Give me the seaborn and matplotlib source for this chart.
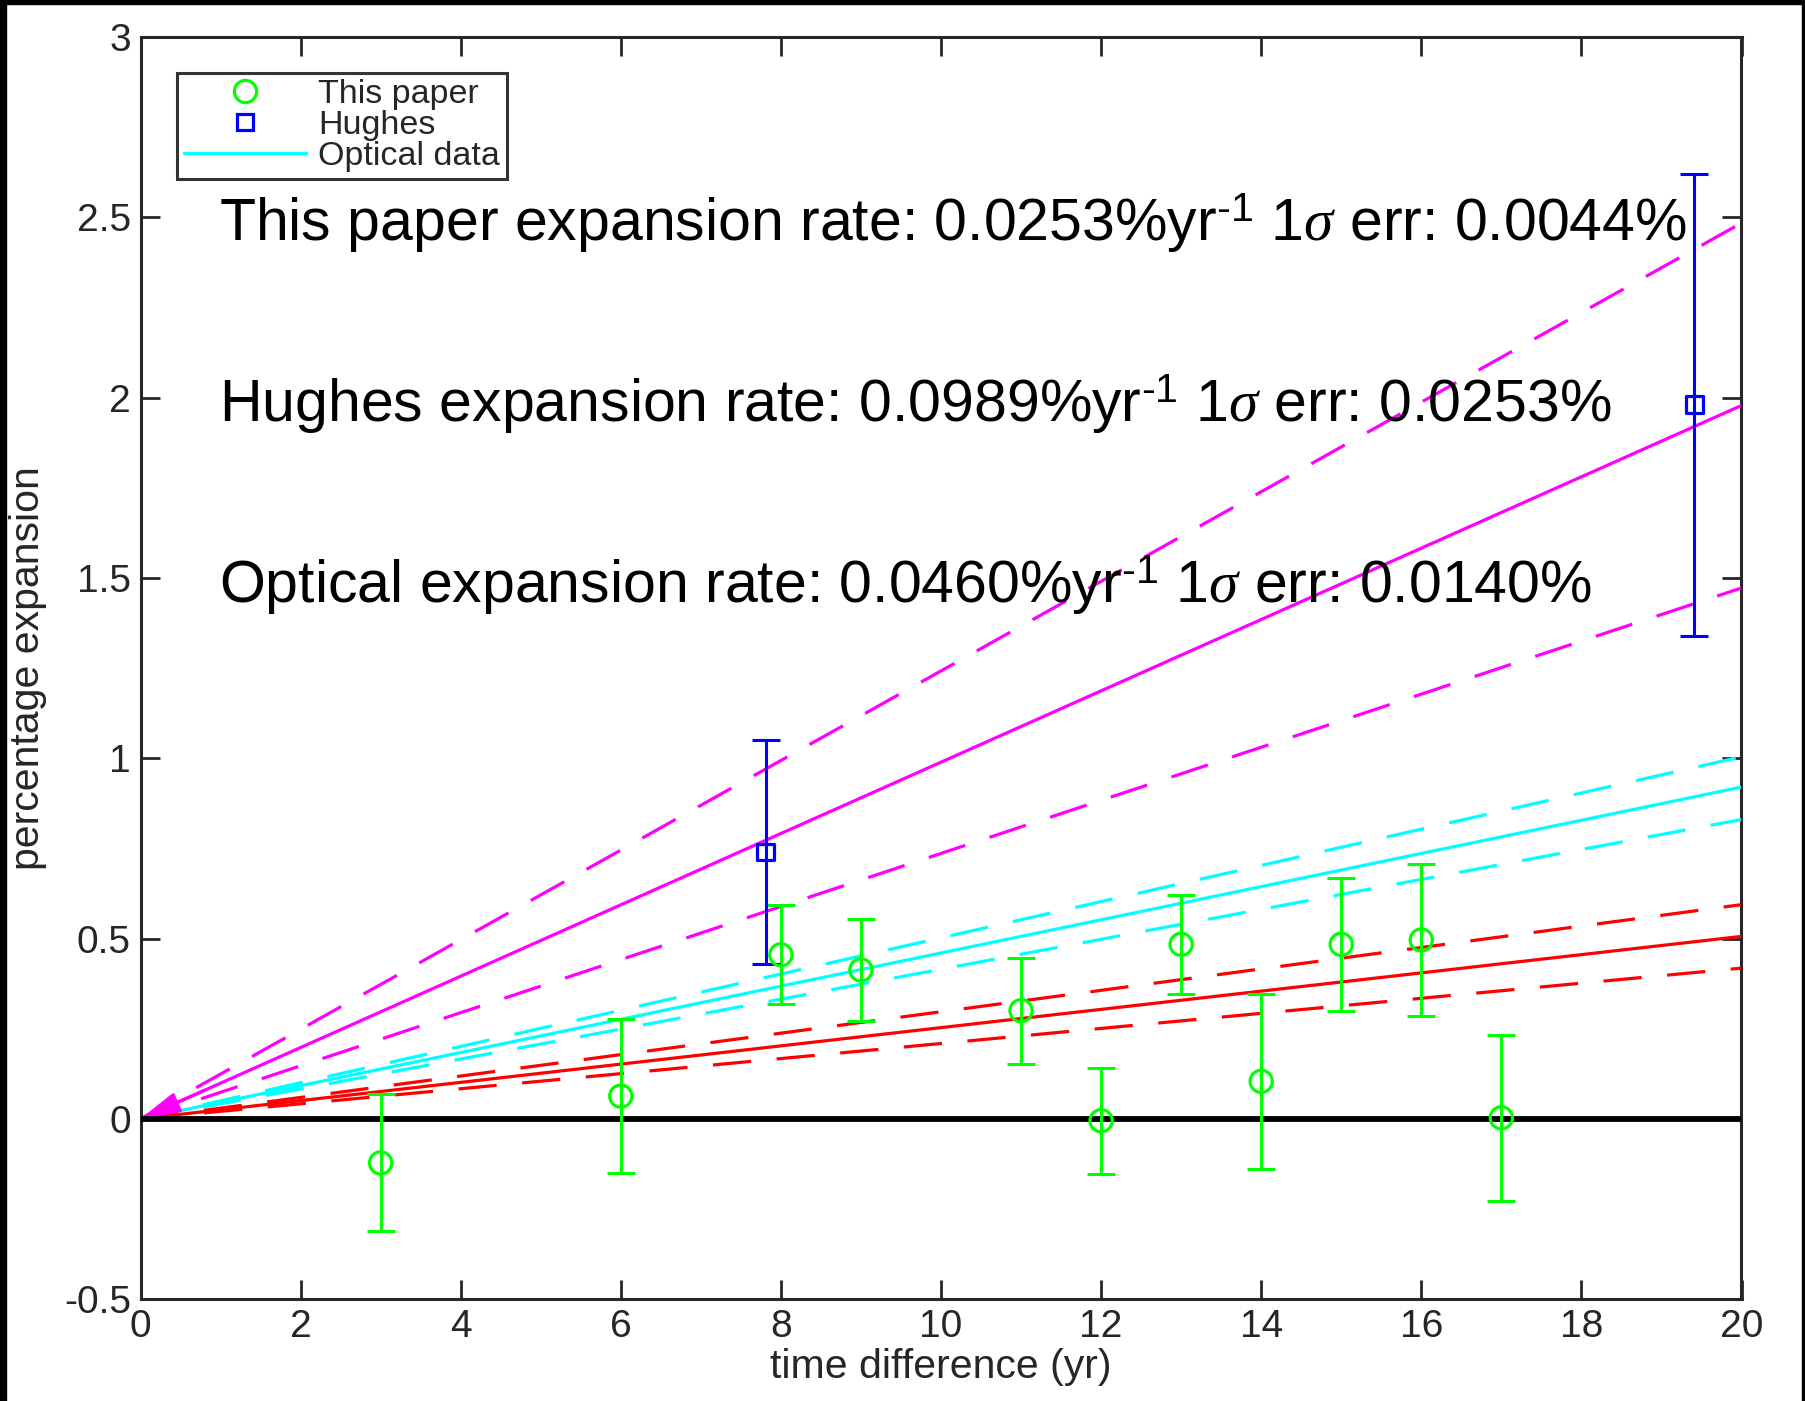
import numpy as np
import pandas as pd
import matplotlib
matplotlib.use("Agg")
import matplotlib.pyplot as plt
import seaborn as sns
from matplotlib.patches import Rectangle
from matplotlib.lines import Line2D

# ---- data ----
paper_t = [3, 6, 8, 9, 11, 12, 13, 14, 15, 16, 17]
paper_y = [-0.122, 0.063, 0.455, 0.413, 0.300, -0.005, 0.484, 0.104, 0.484, 0.496, 0.003]
paper_err = [0.19, 0.213, 0.137, 0.142, 0.147, 0.147, 0.137, 0.243, 0.184, 0.21, 0.23]

hughes_t = [7.81, 19.41]
hughes_y = [0.74, 1.98]
hughes_err = [0.31, 0.64]

line_t = [0, 20]
paper_rate, paper_rate_lo, paper_rate_hi = 0.0253, 0.0209, 0.0297
hughes_rate, hughes_rate_lo, hughes_rate_hi = 0.0989, 0.0736, 0.1242
optical_rate, optical_rate_lo, optical_rate_hi = 0.0460, 0.0415, 0.0502

labels = ["This paper", "Hughes", "Optical data"]
annotations = [
    r"This paper expansion rate: 0.0253%yr$^{\text{-1}}$ 1$\sigma$ err: 0.0044%",
    r"Hughes expansion rate: 0.0989%yr$^{\text{-1}}$ 1$\sigma$ err: 0.0253%",
    r"Optical expansion rate: 0.0460%yr$^{\text{-1}}$ 1$\sigma$ err: 0.0140%",
]
annot_y = [2.433, 1.933, 1.429]

xticks = list(range(0, 21, 2))
yticks = [-0.5, 0, 0.5, 1, 1.5, 2, 2.5, 3]
ytick_labels = ["-0.5", "0", "0.5", "1", "1.5", "2", "2.5", "3"]

# ---- style ----
sns.set_theme(style="white")
plt.rcParams["font.family"] = ["Liberation Sans", "DejaVu Sans"]
plt.rcParams["mathtext.fontset"] = "custom"
plt.rcParams["mathtext.rm"] = "Liberation Sans"
plt.rcParams["mathtext.it"] = "Liberation Serif:italic"
plt.rcParams["mathtext.bf"] = "Liberation Sans:bold"

W, H = 1806, 1401
fig = plt.figure(figsize=(W / 100, H / 100), dpi=100)
fig.patch.set_facecolor("white")
ax = fig.add_axes([140.5 / W, 1 - 1299.2 / H, (1741.5 - 140.5) / W, (1299.2 - 36.9) / H])

axc = "#262626"
DASH = (12, 8)

def fit_lines(rate, lo, hi, color):
    df = pd.DataFrame({"t": line_t * 3,
                       "y": [rate * t for t in line_t] + [lo * t for t in line_t] + [hi * t for t in line_t],
                       "kind": ["fit"] * 2 + ["lo"] * 2 + ["hi"] * 2})
    sns.lineplot(data=df[df.kind == "fit"], x="t", y="y", color=color, lw=2.3, ax=ax, legend=False, zorder=3)
    for k in ["lo", "hi"]:
        l = sns.lineplot(data=df[df.kind == k], x="t", y="y", color=color, lw=2.3, ax=ax, legend=False, zorder=3)
        l.lines[-1].set_dashes(DASH)

fit_lines(hughes_rate, hughes_rate_lo, hughes_rate_hi, "#ff00ff")
fit_lines(optical_rate, optical_rate_lo, optical_rate_hi, "#00ffff")
fit_lines(paper_rate, paper_rate_lo, paper_rate_hi, "#ff0000")

ax.annotate("", xy=(0, 0), xytext=(0.8, hughes_rate * 0.8),
            arrowprops=dict(arrowstyle="-|>,head_length=0.5,head_width=0.13", color="#ff00ff",
                            mutation_scale=48, lw=2.3, shrinkA=0, shrinkB=0), zorder=3)

ax.axhline(0, color="black", lw=4.2, zorder=4)

# error bars
ax.errorbar(paper_t, paper_y, yerr=paper_err, fmt="none", ecolor="#00ff00",
            elinewidth=2.2, capsize=10, capthick=2.2, zorder=5)
ax.errorbar(hughes_t, hughes_y, yerr=hughes_err, fmt="none", ecolor="#0000ff",
            elinewidth=2.2, capsize=10, capthick=2.2, zorder=5)

pdf = pd.DataFrame({"t": paper_t, "y": paper_y})
hdf = pd.DataFrame({"t": hughes_t, "y": hughes_y})
sns.scatterplot(data=pdf, x="t", y="y", marker="o", s=16 ** 2, facecolor="none",
                edgecolor="#00ff00", linewidth=2.3, ax=ax, zorder=6)
sns.scatterplot(data=hdf, x="t", y="y", marker="s", s=12 ** 2, facecolor="none",
                edgecolor="#0000ff", linewidth=2.3, ax=ax, zorder=6)

for txt, yy in zip(annotations, annot_y):
    ax.text(0.98, yy, txt, fontsize=42.5, color="black", va="baseline", ha="left", zorder=7)

ax.set_xlim(0, 20)
ax.set_ylim(-0.5, 3)
ax.set_xticks(xticks)
ax.set_xticklabels([str(v) for v in xticks])
ax.set_yticks(yticks)
ax.set_yticklabels(ytick_labels)
ax.tick_params(direction="in", length=14, width=2, colors=axc, labelsize=28,
               top=True, right=True, bottom=True, left=True, pad=7)
for sp in ax.spines.values():
    sp.set_visible(True)
    sp.set_color(axc)
    sp.set_linewidth(2.2)
ax.set_xlabel("time difference (yr)", fontsize=29.5, color=axc, labelpad=2)
ax.set_ylabel("percentage expansion", fontsize=29.5, color=axc, labelpad=12)

handles = [
    Line2D([], [], ls="none", marker="o", markersize=16, markerfacecolor="none",
           markeredgecolor="#00ff00", markeredgewidth=2.3),
    Line2D([], [], ls="none", marker="s", markersize=12, markerfacecolor="none",
           markeredgecolor="#0000ff", markeredgewidth=2.3),
    Line2D([], [], color="#00ffff", lw=2.5),
]
leg = ax.legend(handles, labels, loc="upper left",
                bbox_to_anchor=((177 - 140.5) / 1601, 1 - (72.6 - 36.9) / 1262.3),
                borderaxespad=0, fontsize=24.5, frameon=True, fancybox=False,
                handlelength=3.6, handletextpad=0.35, labelspacing=0.0, borderpad=0.2)
leg.get_frame().set_edgecolor("black")
leg.get_frame().set_linewidth(2.2)
leg.set_zorder(8)

# black image border
fig.patches.append(Rectangle((0, 1 - 4 / H), 1, 4 / H, transform=fig.transFigure, color="black"))
fig.patches.append(Rectangle((0, 0), 6 / W, 1, transform=fig.transFigure, color="black"))
fig.patches.append(Rectangle((1 - 4 / W, 0), 4 / W, 1, transform=fig.transFigure, color="black"))

fig.savefig("out.png", dpi=100)
